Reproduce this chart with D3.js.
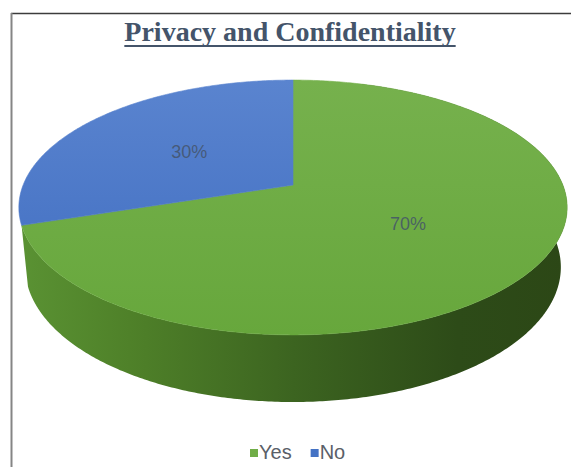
<!DOCTYPE html>
<html>
<head>
<meta charset="utf-8">
<script src="https://cdn.jsdelivr.net/npm/d3@7"></script>
<style>
  html, body { margin: 0; padding: 0; background: #fff; }
  svg { display: block; }
</style>
</head>
<body>
<svg id="chart" width="571" height="467"></svg>
<script>
// Survey answers shown in the 3D pie
const categories = ["Yes", "No"];
const values = [70, 30];
const labels = ["70%", "30%"];
const colors = ["#70ad47", "#4472c4"];
const title = "Privacy and Confidentiality";

const W = 571, H = 467;
const svg = d3.select("#chart");

// Frame lines (top and left)
svg.append("line").attr("x1", 11).attr("x2", W).attr("y1", 13.5).attr("y2", 13.5)
  .attr("stroke", "#3c3c3c").attr("stroke-width", 1.5);
svg.append("line").attr("x1", 11.5).attr("x2", 11.5).attr("y1", 13).attr("y2", H)
  .attr("stroke", "#858585").attr("stroke-width", 2);

// Title, underlined
const t = svg.append("text")
  .attr("x", 290).attr("y", 41)
  .attr("text-anchor", "middle")
  .attr("font-family", "'Liberation Serif', 'Times New Roman', serif")
  .attr("font-weight", "bold")
  .attr("font-size", 28)
  .attr("fill", "#44546a")
  .text(title);
const tb = t.node().getBBox();
svg.append("line")
  .attr("x1", tb.x).attr("x2", tb.x + tb.width)
  .attr("y1", 46).attr("y2", 46)
  .attr("stroke", "#44546a").attr("stroke-width", 2);

// Perspective projection of a disk lying flat, viewed from above-front
const cx = 293, cy = 185;          // screen position of disk centre
const elev = Math.asin(0.4575);    // camera elevation
const sinE = Math.sin(elev), cosE = Math.cos(elev);
const dist = 5.04;                 // camera distance (disk radius = 1)
const focal = 1360;                // focal length in px
const thick = 0.251;               // disk thickness

const sx = d3.scaleLinear().domain([0, 1]).range([cx, cx + 1]);
const sy = d3.scaleLinear().domain([0, 1]).range([cy, cy - 1]);

function project(a, r, y) {
  const X = r * Math.sin(a), Z = -r * Math.cos(a), Y = y;
  const d = dist - (Y * sinE + Z * cosE);
  return [sx(X * focal / d), sy((Y * cosE - Z * sinE) * focal / d)];
}

function rim(a0, a1, y) {
  const n = Math.max(8, Math.ceil((a1 - a0) / 0.01));
  return d3.range(n + 1).map(i => project(a0 + (a1 - a0) * i / n, 1, y));
}

const pie = d3.pie().sort(null).value(d => d)
  .startAngle(0).endAngle(2 * Math.PI);
const arcs = pie(values);

const line = d3.line();
const defs = svg.append("defs");

// Side shading (horizontal lighting)
const sideStops = [
  ["#5a9233", "#4e79c6"],
  ["#4f8129", "#3a63ad"],
  ["#3c6420", "#2e4f8c"],
  ["#2d4b18", "#243f70"],
  ["#2c4716", "#233c6a"]
];
categories.forEach((c, i) => {
  const g = defs.append("linearGradient").attr("id", "side" + i)
    .attr("gradientUnits", "userSpaceOnUse")
    .attr("x1", 20).attr("x2", 567).attr("y1", 0).attr("y2", 0);
  [0, 0.2, 0.5, 0.8, 1].forEach((o, j) => {
    g.append("stop").attr("offset", o).attr("stop-color", sideStops[j][i]);
  });
});
// Top face shading (vertical)
const topStops = [["#76b14d", "#5a84cf"], ["#67a73c", "#3e6cc0"]];
categories.forEach((c, i) => {
  const g = defs.append("linearGradient").attr("id", "top" + i)
    .attr("gradientUnits", "userSpaceOnUse")
    .attr("x1", 0).attr("x2", 0).attr("y1", 80).attr("y2", 336);
  g.append("stop").attr("offset", 0).attr("stop-color", topStops[0][i]);
  g.append("stop").attr("offset", 1).attr("stop-color", topStops[1][i]);
});

// Outer wall, drawn over the front-facing stretch of the rim
const wallStart = 0.3, wallEnd = 1.4 * Math.PI;
const sides = svg.append("g");
arcs.forEach((a, i) => {
  const a0 = Math.max(a.startAngle, wallStart);
  const a1 = Math.min(a.endAngle, wallEnd);
  if (a1 <= a0 + 1e-6) return;
  const pts = rim(a0, a1, 0).concat(rim(a0, a1, -thick).reverse());
  sides.append("path").attr("d", line(pts) + "Z")
    .attr("fill", `url(#side${i})`);
});

// Top faces
const tops = svg.append("g");
arcs.forEach((a, i) => {
  const pts = [project(0, 0, 0)].concat(rim(a.startAngle, a.endAngle, 0));
  tops.append("path").attr("d", line(pts) + "Z")
    .attr("fill", `url(#top${i})`)
    .attr("stroke", `url(#top${i})`).attr("stroke-width", 0.6);
});

// Value labels at half radius on each slice
arcs.forEach((a, i) => {
  const mid = (a.startAngle + a.endAngle) / 2;
  const p = project(mid, 0.5, 0);
  svg.append("text")
    .attr("x", p[0]).attr("y", p[1] + 7)
    .attr("text-anchor", "middle")
    .attr("font-family", "'Liberation Sans', Arial, sans-serif")
    .attr("font-size", 18)
    .attr("fill", "#44546a").attr("fill-opacity", 0.85)
    .text(labels[i]);
});

// Legend
const legend = svg.append("g");
let lx = 250;
categories.forEach((c, i) => {
  legend.append("rect").attr("x", lx).attr("y", 449).attr("width", 8).attr("height", 8)
    .attr("fill", colors[i]);
  const tx = legend.append("text").attr("x", lx + 9).attr("y", 459)
    .attr("font-family", "'Liberation Sans', Arial, sans-serif")
    .attr("font-size", 20).attr("fill", "#5a6068").text(c);
  lx += 9 + tx.node().getComputedTextLength() + 19;
});
</script>
</body>
</html>
